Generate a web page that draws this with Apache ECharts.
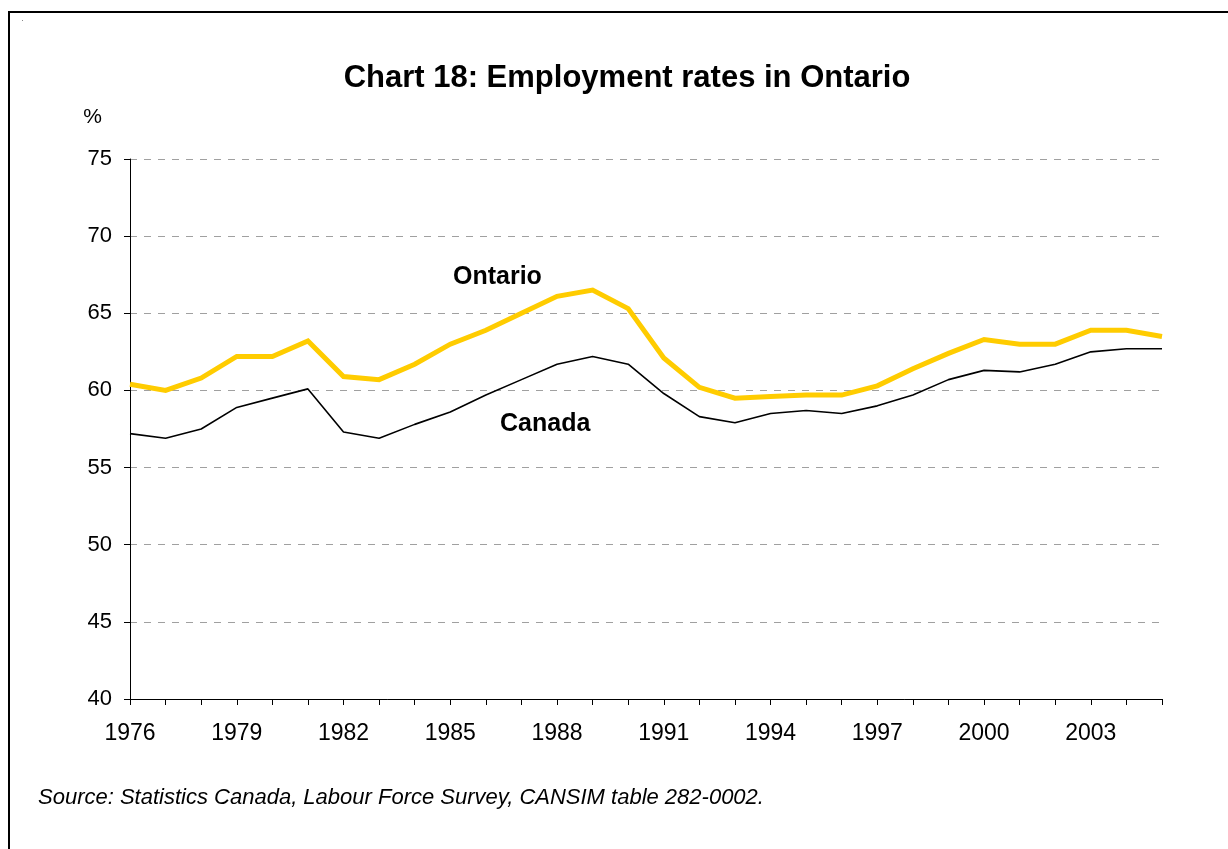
<!DOCTYPE html>
<html>
<head>
<meta charset="utf-8">
<script src="https://cdn.jsdelivr.net/npm/echarts@6/dist/echarts.min.js"></script>
<style>
  html, body { margin: 0; padding: 0; background: #fff; }
  #chart { width: 1228px; height: 849px; }
</style>
</head>
<body>
<div id="chart"></div>
<script>
// Employment rates (%), annual, 1976-2005
const years = ['1976','1977','1978','1979','1980','1981','1982','1983','1984','1985',
               '1986','1987','1988','1989','1990','1991','1992','1993','1994','1995',
               '1996','1997','1998','1999','2000','2001','2002','2003','2004','2005'];
const ontario = [60.4, 60.0, 60.8, 62.2, 62.2, 63.2, 60.9, 60.7, 61.7, 63.0,
                 63.9, 65.0, 66.1, 66.5, 65.3, 62.1, 60.2, 59.5, 59.6, 59.7,
                 59.7, 60.3, 61.4, 62.4, 63.3, 63.0, 63.0, 63.9, 63.9, 63.5];
const canada  = [57.2, 56.9, 57.5, 58.9, 59.5, 60.1, 57.3, 56.9, 57.8, 58.6,
                 59.7, 60.7, 61.7, 62.2, 61.7, 59.8, 58.3, 57.9, 58.5, 58.7,
                 58.5, 59.0, 59.7, 60.7, 61.3, 61.2, 61.7, 62.5, 62.7, 62.7];

const chart = echarts.init(document.getElementById('chart'), null, { renderer: 'canvas' });
const font = '"Liberation Sans", Arial, sans-serif';

chart.setOption({
  backgroundColor: '#ffffff',
  animation: false,
  title: {
    text: 'Chart 18: Employment rates in Ontario',
    left: 622, top: 58, textAlign: 'center',
    textStyle: { fontFamily: font, fontSize: 31, fontWeight: 'bold', color: '#000' }
  },
  grid: { left: 130, right: 66, top: 159, bottom: 150, containLabel: false },
  xAxis: {
    type: 'category',
    data: years,
    boundaryGap: false,
    axisLine: { lineStyle: { color: '#000', width: 1 } },
    axisTick: { show: true, interval: 0, length: 6, lineStyle: { color: '#000' } },
    axisLabel: { interval: 2, color: '#000', fontFamily: font, fontSize: 23, margin: 23 },
    splitLine: { show: false }
  },
  yAxis: {
    type: 'value',
    min: 40, max: 75, interval: 5,
    name: '%',
    nameLocation: 'end',
    nameGap: 31,
    nameTextStyle: { color: '#000', fontFamily: font, fontSize: 21, align: 'right', padding: [0, 28, 0, 0] },
    axisLine: { show: true, lineStyle: { color: '#000', width: 1 } },
    axisTick: { show: true, length: 6, lineStyle: { color: '#000' } },
    axisLabel: { color: '#000', fontFamily: font, fontSize: 22, margin: 18 },
    splitLine: { show: true, lineStyle: { color: '#a0a0a0', type: [7, 7], width: 1 } }
  },
  series: [
    {
      name: 'Ontario', type: 'line', data: ontario,
      symbol: 'none', smooth: false,
      lineStyle: { color: '#FFCC00', width: 5, join: 'miter' },
      z: 3
    },
    {
      name: 'Canada', type: 'line', data: canada,
      symbol: 'none', smooth: false,
      lineStyle: { color: '#000000', width: 1.6 },
      z: 2
    }
  ],
  graphic: [
    {
      type: 'rect', silent: true,
      shape: { x: 9, y: 12, width: 1400, height: 1000 },
      style: { fill: 'none', stroke: '#000', lineWidth: 2 }
    },
    {
      type: 'rect', silent: true,
      shape: { x: 22, y: 20, width: 1, height: 1 },
      style: { fill: '#888' }
    },
    {
      type: 'text', left: 453, top: 265,
      style: { text: 'Ontario', fontFamily: font, fontSize: 25, fontWeight: 'bold', fill: '#000' }
    },
    {
      type: 'text', left: 500, top: 412,
      style: { text: 'Canada', fontFamily: font, fontSize: 25, fontWeight: 'bold', fill: '#000' }
    },
    {
      type: 'text', left: 38, top: 787,
      style: { text: 'Source: Statistics Canada, Labour Force Survey, CANSIM table 282-0002.',
               fontFamily: font, fontSize: 22, fontStyle: 'italic', fill: '#000' }
    }
  ]
});
</script>
</body>
</html>
